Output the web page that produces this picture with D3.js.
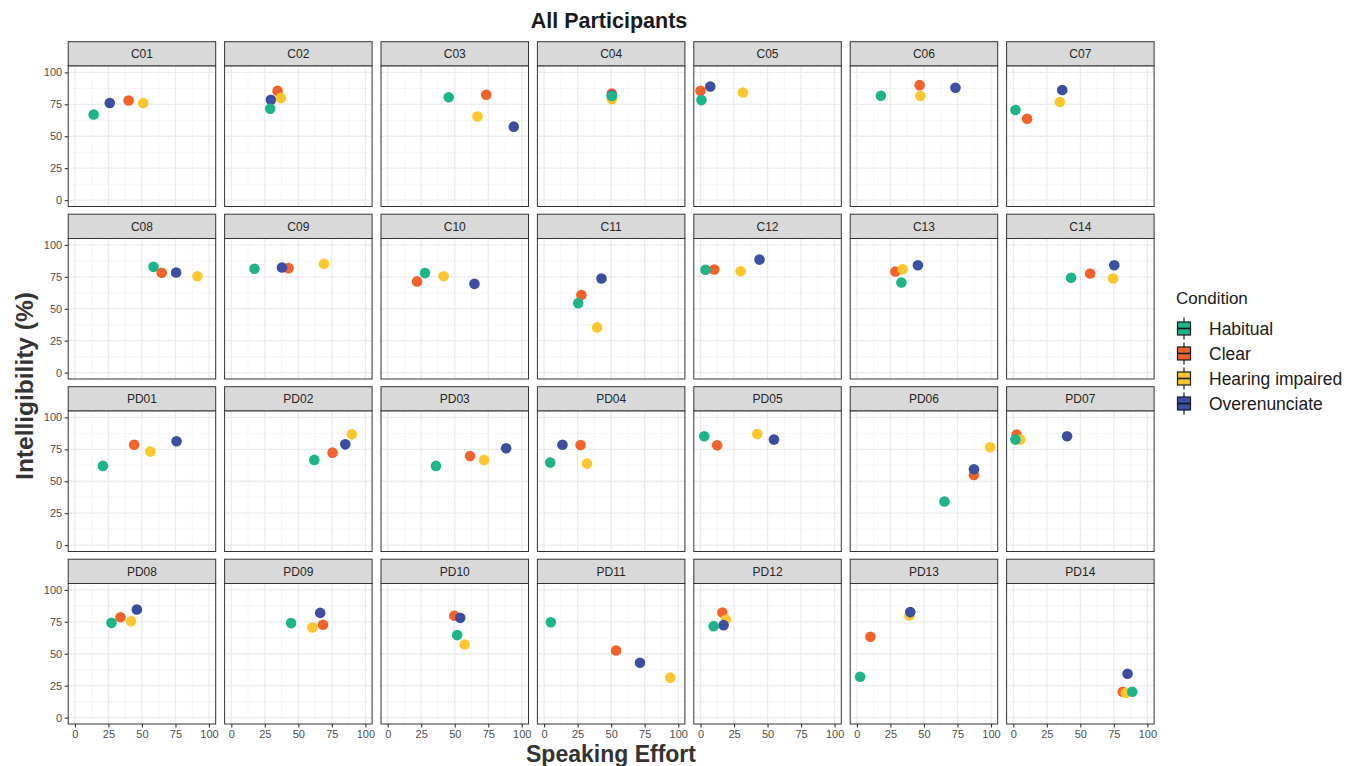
<!DOCTYPE html>
<html>
<head>
<meta charset="utf-8">
<script src="https://cdn.jsdelivr.net/npm/d3@7"></script>
<style>
  html, body { margin: 0; padding: 0; background: #ffffff; }
  svg { display: block; font-family: "Liberation Sans", Arial, Helvetica, sans-serif; }
</style>
</head>
<body>
<svg id="chart" width="1355" height="766"></svg>
<script>
// ---------------- DATA ----------------
const participants = ["C01","C02","C03","C04","C05","C06","C07",
                      "C08","C09","C10","C11","C12","C13","C14",
                      "PD01","PD02","PD03","PD04","PD05","PD06","PD07",
                      "PD08","PD09","PD10","PD11","PD12","PD13","PD14"];
const conditions = ["Habitual","Clear","Hearing impaired","Overenunciate"];
const conditionColors = ["#1CB488","#F1632B","#FEC62E","#3D4EA1"];
const xTicks = [0, 25, 50, 75, 100];
const yTicks = [0, 25, 50, 75, 100];

// Speaking effort (x) and intelligibility (y), one value per participant
const habitualEffort = [14,29,45.5,50.5,0.7,17.9,1.6, 58.6,17.3,27.8,25.4,3.7,33.2,43.1,
                        20.9,61.9,36,4.6,2.8,65.3,1.6, 27.3,44.6,51.8,5,9.8,2.4,88.7];
const habitualIntel  = [67,71.5,80.5,81.5,78.3,81.7,70.5, 82.8,81.3,77.9,54.4,80.5,70.6,74.2,
                        62,66.7,62,64.6,85.2,34.1,82.6, 74.2,74,64.6,74.7,71.6,32,20.3];
const clearEffort    = [40,34.5,73.5,50.5,0,46.8,10.3, 64.7,42.7,21.9,27.8,10.3,28.7,57.3,
                        44.2,75.5,61.4,27.2,12.4,87.3,2.5, 34,68.4,49.7,53.7,16.3,10.1,81.6];
const clearIntel     = [78,85.5,82.5,83.5,85.6,90,63.7, 78.1,81.8,71.4,60.7,80.7,79.2,77.6,
                        78.6,72.4,69.8,78.4,78.1,54.9,86.5, 78.6,72.7,79.7,52.6,82.3,63.3,20.3];
const hearingEffort  = [51,37,67,50.5,31.7,47.3,34.7, 91.4,69.1,41.7,39.5,29.9,34.1,74.4,
                        56.3,89.9,71.9,32,42.3,99.4,5.2, 41.9,60.5,57.4,94.1,19,39.2,84];
const hearingIntel   = [76,80,65.5,79,84.3,81.5,76.8, 75.5,85.2,75.5,35.4,79.4,81,73.7,
                        73.2,86.7,66.7,63.8,87,76.6,82.6, 75.5,70.6,57.3,31.3,76.8,80,19.3];
const overEffort     = [26,29.5,94,50.5,7.3,73.5,36.5, 75.5,37.8,64.7,42.8,44,45.5,75.3,
                        75.8,85,88.3,13.7,54.8,87.3,40.1, 46.2,66.3,54.1,71.5,17.2,39.8,85.2];
const overIntel      = [76,78.5,57.5,82,89,88,86.2, 78.4,82.3,69.5,73.7,88.5,84.1,84.1,
                        81.3,78.9,75.8,78.6,82.6,59.4,85.2, 84.6,82,78.1,43,72.4,82.6,34.4];

const effortBy = {"Habitual": habitualEffort, "Clear": clearEffort,
                  "Hearing impaired": hearingEffort, "Overenunciate": overEffort};
const intelBy  = {"Habitual": habitualIntel, "Clear": clearIntel,
                  "Hearing impaired": hearingIntel, "Overenunciate": overIntel};
// drawing order (later on top)
const drawOrder = ["Clear","Hearing impaired","Overenunciate","Habitual"];

// ---------------- LAYOUT ----------------
const svg = d3.select("#chart");
const nCols = 7;
const colLeft0 = 68.2, colPitch = 156.4, panelW = 147.5;
const rowTop0 = 41.7, rowPitch = 172.5, stripH = 24.3, panelH = 140.5;
const color = d3.scaleOrdinal().domain(conditions).range(conditionColors);

const xScale = d3.scaleLinear().domain([-5, 105]).range([0, panelW]);
const yScale = d3.scaleLinear().domain([-5, 105]).range([panelH, 0]);
const minorVals = [12.5, 37.5, 62.5, 87.5];

participants.forEach((p, i) => {
  const col = i % nCols, row = Math.floor(i / nCols);
  const left = colLeft0 + col * colPitch;
  const stripTop = rowTop0 + row * rowPitch;
  const top = stripTop + stripH;

  // strip
  const s = svg.append("g").attr("transform", `translate(${left},${stripTop})`);
  s.append("rect").attr("width", panelW).attr("height", stripH)
    .attr("fill", "#D9D9D9").attr("stroke", "#333333").attr("stroke-width", 1);
  s.append("text").attr("x", panelW / 2).attr("y", stripH / 2 + 4.2)
    .attr("text-anchor", "middle").attr("font-size", 12).attr("fill", "#262626").text(p);

  const g = svg.append("g").attr("transform", `translate(${left},${top})`);
  g.append("rect").attr("width", panelW).attr("height", panelH).attr("fill", "#ffffff");

  // minor grid
  minorVals.forEach(v => {
    g.append("line").attr("x1", xScale(v)).attr("x2", xScale(v)).attr("y1", 0).attr("y2", panelH)
      .attr("stroke", "#F2F2F2").attr("stroke-width", 0.8);
    g.append("line").attr("y1", yScale(v)).attr("y2", yScale(v)).attr("x1", 0).attr("x2", panelW)
      .attr("stroke", "#F2F2F2").attr("stroke-width", 0.8);
  });
  // major grid
  xTicks.forEach(v => {
    g.append("line").attr("x1", xScale(v)).attr("x2", xScale(v)).attr("y1", 0).attr("y2", panelH)
      .attr("stroke", "#EBEBEB").attr("stroke-width", 1.3);
  });
  yTicks.forEach(v => {
    g.append("line").attr("y1", yScale(v)).attr("y2", yScale(v)).attr("x1", 0).attr("x2", panelW)
      .attr("stroke", "#EBEBEB").attr("stroke-width", 1.3);
  });

  // points
  drawOrder.forEach(c => {
    g.append("circle")
      .attr("cx", xScale(effortBy[c][i]))
      .attr("cy", yScale(intelBy[c][i]))
      .attr("r", 5.3)
      .attr("fill", color(c));
  });

  // border
  g.append("rect").attr("width", panelW).attr("height", panelH)
    .attr("fill", "none").attr("stroke", "#333333").attr("stroke-width", 1);

  // y axis on first column
  if (col === 0) {
    const ya = g.append("g").call(d3.axisLeft(yScale).tickValues(yTicks).tickSize(3.5).tickPadding(2.5));
    ya.select(".domain").remove();
    ya.selectAll("line").attr("stroke", "#333333").attr("stroke-width", 1.1);
    ya.selectAll("text").attr("font-size", 11).attr("fill", "#4D4D4D")
      .attr("font-family", "Liberation Sans, Arial, sans-serif");
  }
  // x axis on last row
  if (row === 3) {
    const xa = g.append("g").attr("transform", `translate(0,${panelH})`)
      .call(d3.axisBottom(xScale).tickValues(xTicks).tickSize(3.5).tickPadding(3));
    xa.select(".domain").remove();
    xa.selectAll("line").attr("stroke", "#333333").attr("stroke-width", 1.1);
    xa.selectAll("text").attr("font-size", 11).attr("fill", "#4D4D4D")
      .attr("font-family", "Liberation Sans, Arial, sans-serif");
  }
});

// ---------------- TITLES ----------------
svg.append("text").attr("x", 609).attr("y", 28).attr("text-anchor", "middle")
  .attr("font-size", 21.5).attr("font-weight", "bold").attr("fill", "#1A1A1A").text("All Participants");
svg.append("text").attr("x", 611).attr("y", 762).attr("text-anchor", "middle")
  .attr("font-size", 23).attr("font-weight", "bold").attr("fill", "#333333").text("Speaking Effort");
svg.append("text").attr("transform", "translate(33,386) rotate(-90)").attr("text-anchor", "middle")
  .attr("font-size", 24.5).attr("font-weight", "bold").attr("fill", "#333333").text("Intelligibility (%)");

// ---------------- LEGEND ----------------
const leg = svg.append("g").attr("transform", "translate(1176,0)");
leg.append("text").attr("x", 0).attr("y", 304).attr("font-size", 17).attr("fill", "#1A1A1A").text("Condition");
conditions.forEach((c, k) => {
  const cy = 328.5 + k * 25;
  const kg = leg.append("g").attr("transform", `translate(0,${cy})`);
  kg.append("line").attr("x1", 8).attr("x2", 8).attr("y1", -11).attr("y2", 11)
    .attr("stroke", "#1A1A1A").attr("stroke-width", 1.2);
  kg.append("rect").attr("x", 1.5).attr("y", -6.5).attr("width", 13).attr("height", 13)
    .attr("fill", color(c)).attr("stroke", "#1A1A1A").attr("stroke-width", 1.2);
  kg.append("line").attr("x1", 1.5).attr("x2", 14.5).attr("y1", 0).attr("y2", 0)
    .attr("stroke", "#1A1A1A").attr("stroke-width", 1.6);
  kg.append("text").attr("x", 33).attr("y", 6).attr("font-size", 17.5).attr("fill", "#1A1A1A").text(c);
});
</script>
</body>
</html>
